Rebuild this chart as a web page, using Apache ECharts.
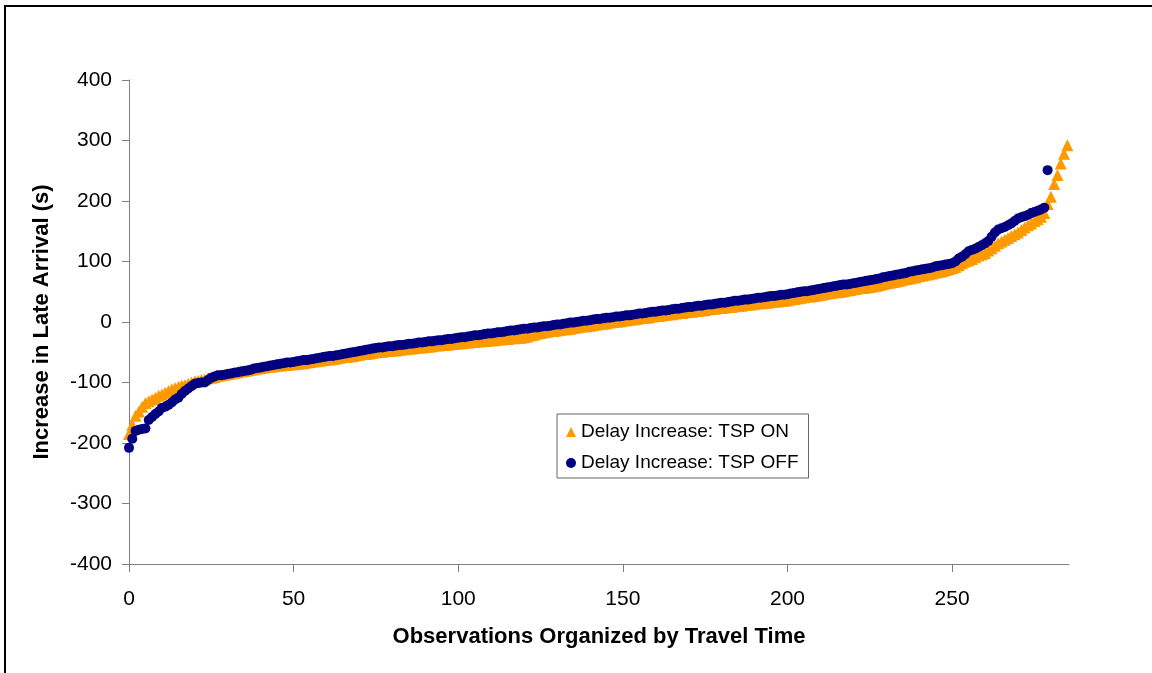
<!DOCTYPE html>
<html>
<head>
<meta charset="utf-8">
<script src="https://cdn.jsdelivr.net/npm/echarts@6/dist/echarts.min.js"></script>
<style>
html,body{margin:0;padding:0;background:#fff;}
#chart{width:1152px;height:673px;}
</style>
</head>
<body>
<div id="chart"></div>
<script>
// Tick labels
const xTickValues = [0, 50, 100, 150, 200, 250];
const yTickValues = [-400, -300, -200, -100, 0, 100, 200, 300, 400];

// Series names
const seriesOnName = 'Delay Increase: TSP ON';
const seriesOffName = 'Delay Increase: TSP OFF';

// Delay increase with TSP ON (observation index = array position)
const tspOn = [
-185,-170,-155,-148,-140,-134,-131,-128,-125,-122,
-120,-117,-114,-111,-109,-107,-105,-104,-102,-100,
-98,-97,-96,-95,-93,-92,-91,-89,-88,-87,
-86,-85,-84,-83,-82,-81,-80,-79,-78,-77,
-76,-75,-74,-74,-73,-72,-72,-71,-71,-70,
-70,-69,-68,-68,-67,-66,-65,-65,-64,-63,
-62,-62,-61,-60,-59,-58,-58,-57,-56,-55,
-54,-53,-53,-52,-51,-50,-49,-49,-48,-48,
-47,-47,-46,-45,-45,-44,-44,-43,-42,-42,
-41,-41,-40,-39,-39,-38,-38,-37,-36,-36,
-35,-35,-34,-34,-33,-33,-32,-32,-31,-31,
-30,-30,-29,-29,-28,-28,-27,-27,-26,-26,
-25,-24,-22,-21,-19,-18,-17,-16,-15,-15,
-14,-13,-12,-12,-11,-10,-9,-8,-7,-7,
-6,-5,-4,-3,-3,-2,-1,0,1,1,
2,3,4,4,5,6,7,7,8,9,
10,10,11,12,13,13,14,15,15,16,
17,17,18,19,19,20,21,22,22,23,
23,24,25,25,26,27,27,28,29,29,
30,31,31,32,32,33,34,34,35,35,
36,37,38,39,40,41,42,42,43,44,
45,46,47,48,49,49,50,51,52,53,
54,55,56,56,57,58,59,60,61,63,
64,65,66,67,68,70,71,72,73,74,
76,77,78,79,80,82,83,84,86,87,
89,91,94,97,100,102,104,107,110,112,
114,118,122,126,130,133,136,139,142,145,
148,152,156,160,163,167,170,174,180,195,
207,228,243,262,278,292
];

// Delay increase with TSP OFF
const tspOff = [
-208,-193,-180,-178,-177,-176,-162,-157,-152,-148,
-142,-140,-137,-133,-128,-125,-119,-114,-110,-106,
-102,-101,-100,-100,-96,-92,-90,-88,-88,-87,
-86,-85,-84,-83,-82,-81,-80,-79,-77,-76,
-75,-74,-73,-72,-71,-70,-69,-68,-67,-67,
-66,-65,-64,-63,-63,-62,-61,-60,-59,-58,
-57,-56,-56,-55,-54,-53,-52,-51,-50,-49,
-48,-47,-46,-45,-44,-43,-42,-42,-41,-40,
-40,-39,-38,-38,-37,-36,-36,-35,-34,-34,
-33,-32,-32,-31,-30,-30,-29,-28,-28,-27,
-26,-25,-25,-24,-23,-22,-22,-21,-20,-19,
-19,-18,-17,-17,-16,-15,-14,-14,-13,-12,
-11,-11,-10,-9,-9,-8,-7,-7,-6,-5,
-4,-4,-3,-2,-1,-1,0,1,2,2,
3,4,5,5,6,7,7,8,9,9,
10,11,11,12,13,14,14,15,16,17,
17,18,19,19,20,21,22,22,23,24,
25,25,26,27,27,28,29,29,30,31,
32,32,33,34,35,35,36,37,37,38,
39,40,40,41,42,43,43,44,45,45,
46,47,48,49,50,51,51,52,53,54,
55,56,57,58,59,60,61,62,62,63,
64,65,66,67,68,69,70,71,72,74,
75,76,77,78,79,80,81,83,84,85,
86,87,88,89,90,92,93,94,95,96,
97,100,105,108,112,117,119,121,124,127,
130,134,141,148,153,155,157,160,163,167,
171,173,175,177,180,182,184,186,189,251
];

const onData = tspOn.map((v, i) => [i, v]);
const offData = tspOff.map((v, i) => [i, v]);

const chart = echarts.init(document.getElementById('chart'), null, {renderer: 'canvas'});
const axisColor = '#808080';
const fontFam = 'Liberation Sans, Arial, sans-serif';

chart.setOption({
  animation: false,
  backgroundColor: '#ffffff',
  grid: {left: 129, right: 83, top: 80, bottom: 109, containLabel: false},
  xAxis: {
    type: 'value',
    min: 0,
    max: 285.5,
    name: 'Observations Organized by Travel Time',
    nameLocation: 'middle',
    nameGap: 62,
    nameTextStyle: {fontFamily: fontFam, fontWeight: 'bold', fontSize: 22, color: '#000'},
    axisLine: {show: true, onZero: false, lineStyle: {color: axisColor, width: 1}},
    axisTick: {show: true, length: 8, inside: false, customValues: xTickValues, lineStyle: {color: axisColor}},
    axisLabel: {customValues: xTickValues, margin: 25, fontFamily: fontFam, fontSize: 21, color: '#000'},
    splitLine: {show: false}
  },
  yAxis: {
    type: 'value',
    min: -400,
    max: 400,
    interval: 100,
    name: 'Increase in Late Arrival (s)',
    nameLocation: 'middle',
    nameGap: 76,
    nameRotate: 90,
    nameTextStyle: {fontFamily: fontFam, fontWeight: 'bold', fontSize: 22, color: '#000'},
    axisLine: {show: true, onZero: false, lineStyle: {color: axisColor, width: 1}},
    axisTick: {show: true, length: 7, inside: false, lineStyle: {color: axisColor}},
    axisLabel: {margin: 17, fontFamily: fontFam, fontSize: 21, color: '#000',
      formatter: v => String(v)},
    splitLine: {show: false}
  },
  legend: {
    orient: 'vertical',
    left: 557,
    top: 414,
    padding: [8, 10, 5, 9],
    itemGap: 11,
    itemWidth: 10,
    itemHeight: 10,
    borderColor: '#666',
    borderWidth: 1,
    backgroundColor: '#fff',
    textStyle: {fontFamily: fontFam, fontSize: 19, color: '#000', lineHeight: 20},
    data: [
      {name: seriesOnName, icon: 'triangle'},
      {name: seriesOffName, icon: 'circle'}
    ]
  },
  series: [
    {
      name: seriesOnName,
      type: 'scatter',
      symbol: 'triangle',
      symbolSize: 12,
      itemStyle: {color: '#FF9900', opacity: 1},
      data: onData,
      z: 2
    },
    {
      name: seriesOffName,
      type: 'scatter',
      symbol: 'circle',
      symbolSize: 10,
      itemStyle: {color: '#000080', opacity: 1},
      data: offData,
      z: 3
    }
  ],
  graphic: [
    {type: 'line', shape: {x1: 4, y1: 6, x2: 1152, y2: 6}, style: {stroke: '#000', lineWidth: 2}, z: 100},
    {type: 'line', shape: {x1: 5, y1: 5, x2: 5, y2: 673}, style: {stroke: '#000', lineWidth: 2}, z: 100}
  ]
});
</script>
</body>
</html>
